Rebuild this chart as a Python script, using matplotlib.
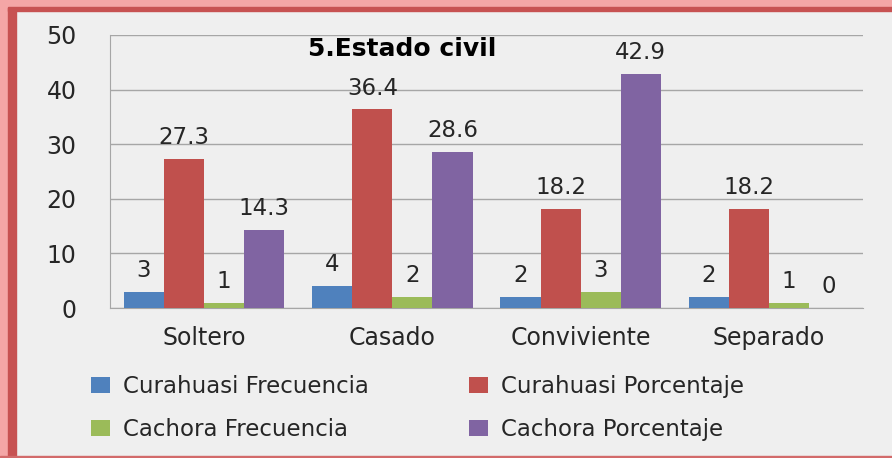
import numpy as np
import matplotlib.pyplot as plt
from matplotlib.patches import Rectangle

categories = ['Soltero', 'Casado', 'Conviviente', 'Separado']
curahuasi_frec = [3, 4, 2, 2]
curahuasi_pct = [27.3, 36.4, 18.2, 18.2]
cachora_frec = [1, 2, 3, 1]
cachora_pct = [14.3, 28.6, 42.9, 0]
labels_frec_cu = ['3', '4', '2', '2']
labels_pct_cu = ['27.3', '36.4', '18.2', '18.2']
labels_frec_ca = ['1', '2', '3', '1']
labels_pct_ca = ['14.3', '28.6', '42.9', '0']

series = [
    ('Curahuasi Frecuencia', curahuasi_frec, labels_frec_cu, '#4F81BD'),
    ('Curahuasi Porcentaje', curahuasi_pct, labels_pct_cu, '#C0504D'),
    ('Cachora Frecuencia', cachora_frec, labels_frec_ca, '#9BBB59'),
    ('Cachora Porcentaje', cachora_pct, labels_pct_ca, '#8064A2'),
]

bg = '#EFEFEF'
text_color = '#262626'
grid_color = '#A6A6A6'

plt.rcParams['font.family'] = ['DejaVu Sans']

fig = plt.figure(figsize=(8.92, 4.58), dpi=100, facecolor=bg)
ax = fig.add_axes([0.1233, 0.3275, 0.8442, 0.5961])
ax.set_facecolor(bg)

x = np.arange(len(categories))
width = 0.213
handles = []
for i, (name, vals, labs, color) in enumerate(series):
    pos = x + (i - 1.5) * width
    bars = ax.bar(pos, vals, width, color=color, label=name, zorder=3)
    ax.bar_label(bars, labels=labs, padding=7, fontsize=16.5, color=text_color)
    handles.append(bars)

ax.set_xlim(-0.5, len(categories) - 0.5)
ax.set_ylim(0, 50)
ax.set_yticks(range(0, 51, 10))
ax.set_xticks(x)
ax.set_xticklabels(categories)
ax.tick_params(axis='both', length=0, labelsize=17, colors=text_color)
ax.tick_params(axis='x', pad=13)
ax.tick_params(axis='y', pad=24)
ax.grid(axis='y', color=grid_color, linewidth=1, zorder=0)
ax.grid(axis='x', visible=False)
for s in ['top', 'right']:
    ax.spines[s].set_visible(False)
ax.spines['left'].set_color(grid_color)
ax.spines['bottom'].set_color(grid_color)

ax.text(0.388, 0.948, '5.Estado civil', transform=ax.transAxes, ha='center', va='center',
        fontsize=18, fontweight='bold', color='black')

# legend fills row by row in the reference: reorder for matplotlib's column filling
order = [0, 2, 1, 3]
fig.legend([handles[k] for k in order], [series[k][0] for k in order],
           loc='upper left', bbox_to_anchor=(0.102, 0.181), ncol=2, frameon=False,
           fontsize=16.5, handlelength=0.85, handleheight=0.7, columnspacing=4.36,
           labelspacing=0.88, handletextpad=0.55, labelcolor=text_color,
           borderaxespad=0, borderpad=0)

# slide frame: pink outer band with darker red inner line
fig.patches.append(Rectangle((0, 0), 8 / 892, 1, transform=fig.transFigure,
                             color='#F4A6A6', zorder=-1))
fig.patches.append(Rectangle((8 / 892, 0), 8 / 892, 1 - 7 / 458, transform=fig.transFigure,
                             color='#C75252', zorder=-1))
fig.patches.append(Rectangle((0, 1 - 7 / 458), 1, 7 / 458, transform=fig.transFigure,
                             color='#F4A6A6', zorder=-1))
fig.patches.append(Rectangle((8 / 892, 1 - 11 / 458), 1, 4 / 458, transform=fig.transFigure,
                             color='#C75252', zorder=-1))
fig.patches.append(Rectangle((0, 0), 1, 2 / 458, transform=fig.transFigure,
                             color='#D26A6A', zorder=-1))

fig.savefig('out.png', dpi=100, facecolor=bg)
